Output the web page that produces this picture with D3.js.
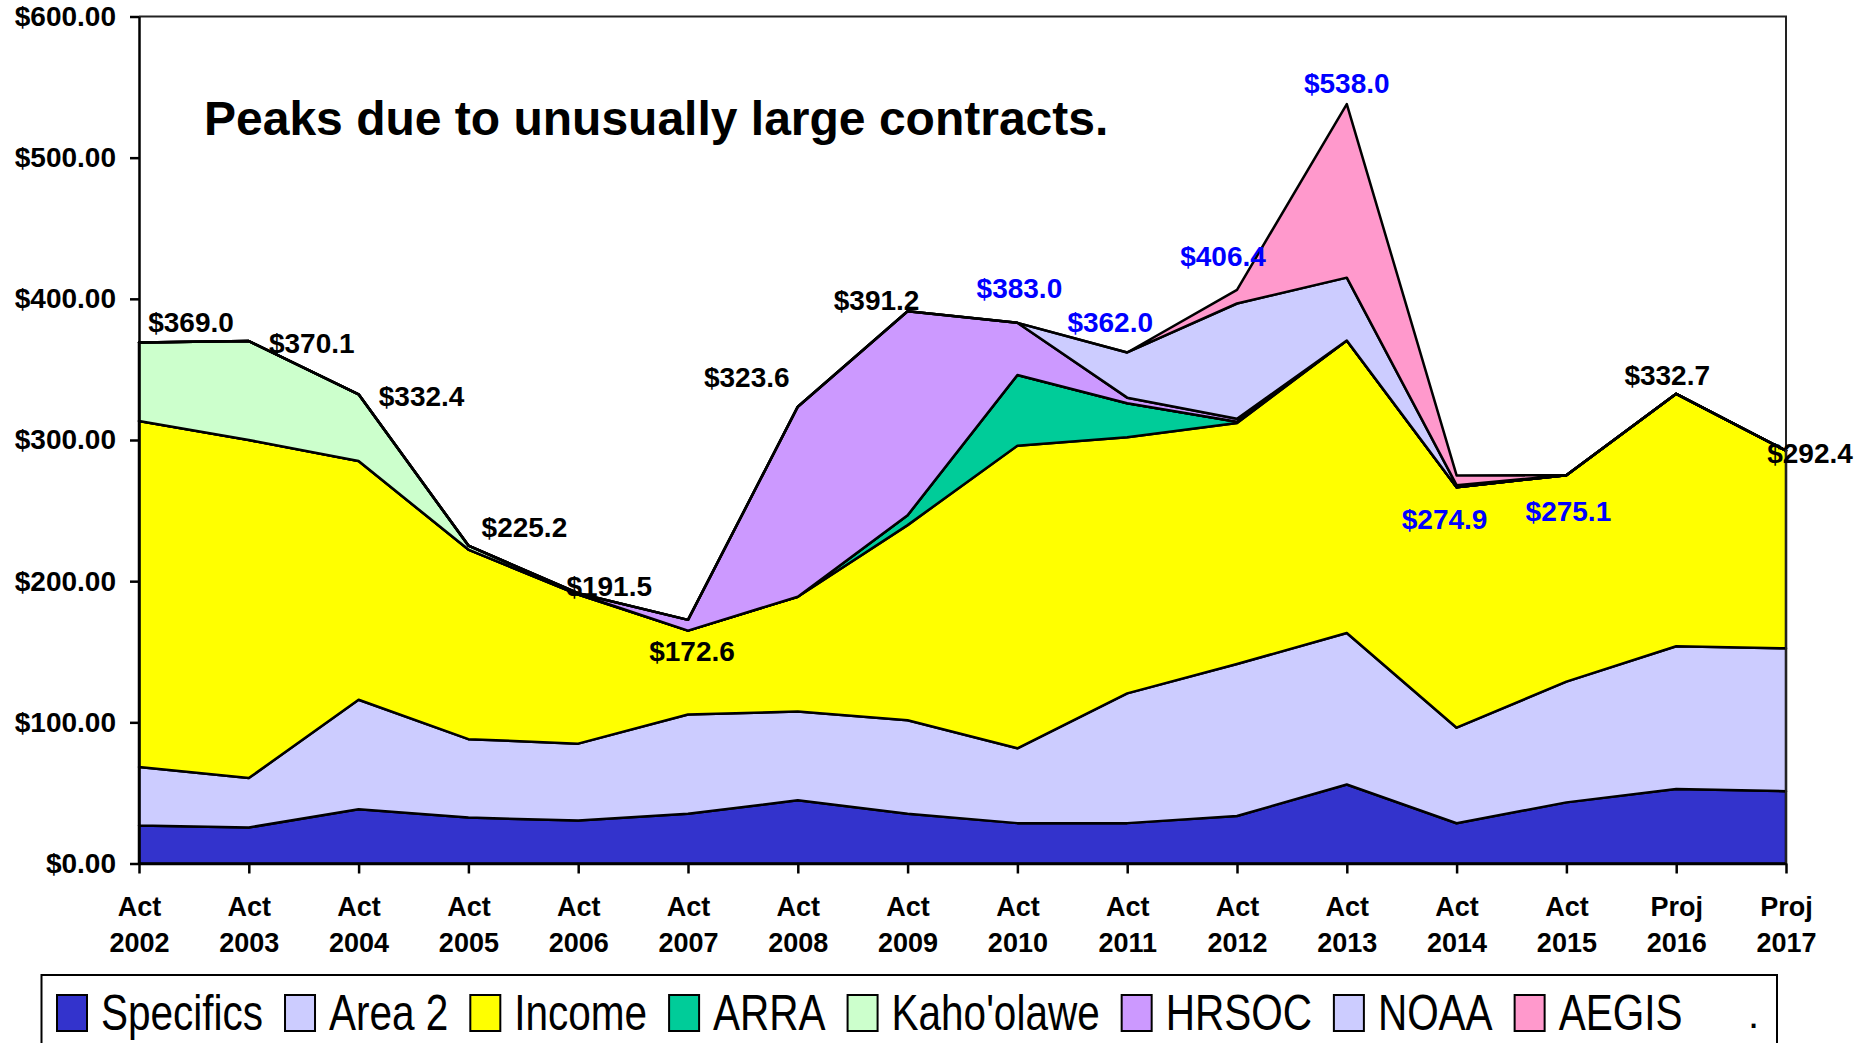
<!DOCTYPE html>
<html>
<head>
<meta charset="utf-8">
<title>Peaks due to unusually large contracts</title>
<script src="https://cdn.jsdelivr.net/npm/d3@7"></script>
<style>
  body { margin: 0; background: #fff; }
  svg { display: block; font-family: "Liberation Sans", Arial, sans-serif; }
</style>
</head>
<body>
<div id="viz"></div>
<script>
// categories along the bottom (two line labels)
var years = ["2002", "2003", "2004", "2005", "2006", "2007", "2008", "2009",
             "2010", "2011", "2012", "2013", "2014", "2015", "2016", "2017"];
var periods = ["Act", "Act", "Act", "Act", "Act", "Act", "Act", "Act",
               "Act", "Act", "Act", "Act", "Act", "Act", "Proj", "Proj"];

// series values (stack order, bottom first)
var seriesNames = ["Specifics", "Area 2", "Income", "ARRA", "Kaho'olawe", "HRSOC", "NOAA", "AEGIS"];
var specifics = [27.0, 25.5, 38.5, 32.5, 30.5, 35.2, 44.8, 35.2, 28.6, 28.6, 33.6, 56.0, 28.5, 43.3, 52.8, 51.2];
var area2     = [41.4, 35.0, 77.5, 55.6, 54.4, 70.4, 62.9, 66.3, 53.0, 91.9, 107.7, 107.3, 67.7, 85.5, 101.1, 101.2];
var income    = [245.0, 239.5, 169.1, 134.3, 105.6, 59.4, 81.3, 138.2, 214.4, 181.5, 170.7, 207.2, 170.3, 146.3, 178.8, 140.0];
var arra      = [0, 0, 0, 0, 0, 0, 0, 7.0, 50.0, 24.0, 1.0, 0, 0, 0, 0, 0];
var kahoolawe = [55.6, 70.1, 47.3, 2.8, 0.5, 0, 0, 0, 0, 0, 0, 0, 0, 0, 0, 0];
var hrsoc     = [0, 0, 0, 0, 0.5, 7.6, 134.6, 144.5, 37.0, 4.0, 2.0, 0, 0, 0, 0, 0];
var noaa      = [0, 0, 0, 0, 0, 0, 0, 0, 0, 32.0, 81.7, 44.5, 1.5, 0, 0, 0];
var aegis     = [0, 0, 0, 0, 0, 0, 0, 0, 0, 0, 9.7, 123.0, 6.9, 0, 0, 0];

var yTicks = [0, 100, 200, 300, 400, 500, 600];
// totals shown in blue
var blueTotals = ["2010", "2011", "2012", "2013", "2014", "2015"];
var titleText = "Peaks due to unusually large contracts.";

// ---- styles / layout ----
var seriesColors = ["#3333CC", "#CCCCFF", "#FFFF00", "#00CC99", "#CCFFCC", "#CC99FF", "#CCCCFF", "#FF99CC"];
// where each total label sits relative to its point (px)
var labelOffsets = [[52, -21], [63, 2], [63, 2], [56, -19], [31, -7], [4, 31], [-51, -30], [-31, -11],
                    [2, -35], [-17, -31], [-14, -34], [0, -21], [-12, 43], [2, 36], [-9, -19], [24, 2]];

var width = 1860, height = 1043;
// note: "top" is taken by window.top, so use plot* names
var plotLeft = 139, plotRight = 1786, plotTop = 16.5, plotBottom = 863.5;

var svg = d3.select("#viz").append("svg")
    .attr("width", width)
    .attr("height", height);

// build rows for the stack
var columns = [specifics, area2, income, arra, kahoolawe, hrsoc, noaa, aegis];
var rows = years.map(function(yr, i) {
    var row = { year: yr };
    seriesNames.forEach(function(name, k) { row[name] = columns[k][i]; });
    return row;
});

var x = d3.scalePoint().domain(years).range([plotLeft, plotRight]);
var y = d3.scaleLinear().domain([0, 600]).range([plotBottom, plotTop]);

var stacked = d3.stack().keys(seriesNames)(rows);

var area = d3.area()
    .x(function(d) { return x(d.data.year); })
    .y0(function(d) { return y(d[0]); })
    .y1(function(d) { return y(d[1]); });

svg.append("g").selectAll("path")
    .data(stacked)
    .enter().append("path")
    .attr("d", area)
    .attr("fill", function(d, i) { return seriesColors[i]; })
    .attr("stroke", "#000")
    .attr("stroke-width", 2.5)
    .attr("stroke-linejoin", "round");

// plot frame (top and right)
svg.append("path")
    .attr("d", "M" + plotLeft + "," + plotTop + "H" + plotRight + "V" + plotBottom)
    .attr("fill", "none")
    .attr("stroke", "#222")
    .attr("stroke-width", 2);

// y axis
var yAxis = svg.append("g")
    .attr("transform", "translate(" + plotLeft + ",0)")
    .call(d3.axisLeft(y).tickValues(yTicks).tickFormat(d3.format("$.2f"))
          .tickSize(9).tickSizeOuter(0).tickPadding(14));
yAxis.selectAll("text")
    .attr("font-size", 28)
    .attr("font-weight", "bold")
    .attr("fill", "#000");

// x axis
var xAxis = svg.append("g")
    .attr("transform", "translate(0," + plotBottom + ")")
    .call(d3.axisBottom(x).tickSize(10).tickSizeOuter(0).tickFormat(""));
xAxis.selectAll(".tick text").remove();
xAxis.selectAll(".tick").append("text")
    .attr("text-anchor", "middle")
    .attr("font-size", 27)
    .attr("font-weight", "bold")
    .attr("fill", "#000")
    .each(function(d, i) {
        var t = d3.select(this);
        t.append("tspan").attr("x", 0).attr("y", 52).text(periods[i]);
        t.append("tspan").attr("x", 0).attr("y", 88).text(d);
    });
svg.selectAll(".domain, .tick line").attr("stroke", "#000").attr("stroke-width", 2.5);

// totals
var totals = rows.map(function(r) {
    return d3.sum(seriesNames, function(n) { return r[n]; });
});
svg.append("g").selectAll("text")
    .data(totals)
    .enter().append("text")
    .attr("x", function(d, i) { return x(years[i]) + labelOffsets[i][0]; })
    .attr("y", function(d, i) { return y(d) + labelOffsets[i][1]; })
    .attr("dy", "0.36em")
    .attr("text-anchor", "middle")
    .attr("font-size", 28)
    .attr("font-weight", "bold")
    .attr("fill", function(d, i) { return blueTotals.indexOf(years[i]) >= 0 ? "#0000FF" : "#000"; })
    .text(function(d) { return "$" + d.toFixed(1); });

// title
svg.append("text")
    .attr("x", 204)
    .attr("y", 135)
    .attr("font-size", 48)
    .attr("font-weight", "bold")
    .attr("fill", "#000")
    .text(titleText);

// legend
svg.append("rect")
    .attr("x", 41.5).attr("y", 975)
    .attr("width", 1735.5).attr("height", 120)
    .attr("fill", "#fff")
    .attr("stroke", "#000")
    .attr("stroke-width", 2);

var squeeze = 0.81;
var lx = 57;
seriesNames.forEach(function(name, i) {
    svg.append("rect")
        .attr("x", lx).attr("y", 995)
        .attr("width", 30).attr("height", 36)
        .attr("fill", seriesColors[i])
        .attr("stroke", "#000")
        .attr("stroke-width", 2);
    var t = svg.append("text")
        .attr("transform", "translate(" + (lx + 44) + ",1030) scale(" + squeeze + ",1)")
        .attr("font-size", 50)
        .attr("fill", "#000")
        .text(name);
    lx = lx + 44 + t.node().getComputedTextLength() * squeeze + 22;
});
svg.append("text")
    .attr("x", 1748).attr("y", 1028)
    .attr("font-size", 40)
    .attr("fill", "#000")
    .text(".");
</script>
</body>
</html>
